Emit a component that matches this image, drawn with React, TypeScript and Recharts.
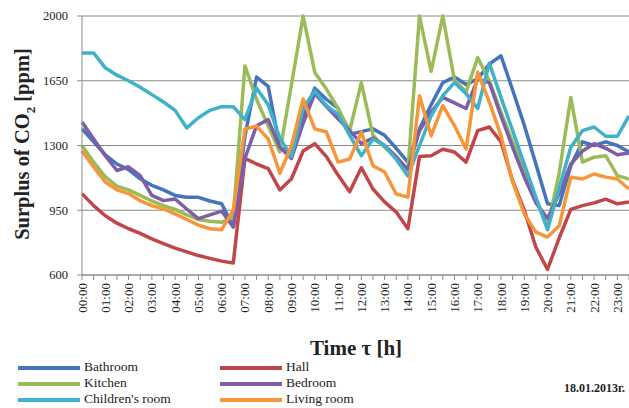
import { LineChart, Line, XAxis, YAxis, CartesianGrid } from 'recharts';

const times = [
  '00:00', '00:30', '01:00', '01:30', '02:00', '02:30', '03:00', '03:30',
  '04:00', '04:30', '05:00', '05:30', '06:00', '06:30', '07:00', '07:30',
  '08:00', '08:30', '09:00', '09:30', '10:00', '10:30', '11:00', '11:30',
  '12:00', '12:30', '13:00', '13:30', '14:00', '14:30', '15:00', '15:30',
  '16:00', '16:30', '17:00', '17:30', '18:00', '18:30', '19:00', '19:30',
  '20:00', '20:30', '21:00', '21:30', '22:00', '22:30', '23:00', '23:30',
];

const yTicks = [600, 950, 1300, 1650, 2000];

const bathroom = [1390, 1320, 1250, 1200, 1170, 1120, 1085, 1060, 1030, 1020, 1020, 1000, 985, 860, 1350, 1670, 1620, 1290, 1250, 1450, 1610, 1550, 1500, 1360, 1375, 1390, 1355, 1285, 1210, 1390, 1520, 1640, 1670, 1630, 1660, 1740, 1785, 1600, 1410, 1200, 985, 975, 1190, 1320, 1300, 1320, 1300, 1265];
const hall = [1040, 975, 920, 880, 850, 825, 795, 770, 745, 725, 705, 690, 675, 665, 1230, 1200, 1175, 1060, 1120, 1270, 1310, 1240, 1140, 1050, 1180, 1065, 995, 940, 850, 1240, 1245, 1280, 1265, 1210, 1380, 1400, 1320, 1110, 950, 750, 630, 800, 955, 975, 990, 1010, 985, 995];
const kitchen = [1300, 1210, 1130, 1080, 1060, 1030, 1000, 975, 955, 925, 900, 890, 885, 915, 1730, 1550, 1405, 1265, 1630, 2000, 1695, 1605, 1500, 1380, 1640, 1355, 1290, 1230, 1170, 2000, 1700, 2000, 1655, 1590, 1775, 1650, 1480, 1320, 1170, 1010, 860, 1150, 1560, 1210, 1237, 1245, 1137, 1119];
const bedroom = [1427, 1335, 1245, 1165, 1185, 1137, 1030, 1002, 1011, 957, 905, 925, 945, 860, 1230, 1407, 1440, 1290, 1230, 1420, 1580, 1510, 1445, 1380, 1310, 1340, 1300, 1240, 1170, 1380, 1480, 1560, 1530, 1500, 1660, 1640, 1460, 1290, 1130, 990, 905, 1040, 1200, 1270, 1310, 1285, 1250, 1260];
const children = [1800, 1800, 1720, 1680, 1650, 1615, 1575, 1535, 1490, 1395, 1450, 1490, 1510, 1510, 1440, 1610, 1520, 1340, 1240, 1500, 1595, 1515, 1470, 1355, 1245, 1335, 1300, 1225, 1135, 1300, 1460, 1570, 1640, 1580, 1500, 1745, 1560, 1380, 1200, 1020, 845, 1070, 1290, 1380, 1400, 1350, 1350, 1460];
const living = [1270, 1184, 1103, 1060, 1040, 1002, 975, 957, 930, 900, 870, 850, 845, 950, 1389, 1405, 1335, 1150, 1299, 1551, 1390, 1373, 1210, 1227, 1373, 1191, 1157, 1038, 1021, 1569, 1353, 1515, 1407, 1281, 1697, 1535, 1353, 1103, 930, 832, 805, 866, 1129, 1119, 1146, 1129, 1119, 1065];

const series = [
  { key: 'bathroom', name: 'Bathroom', color: '#4474bd', values: bathroom },
  { key: 'hall', name: 'Hall', color: '#c0464a', values: hall },
  { key: 'kitchen', name: 'Kitchen', color: '#9bbb59', values: kitchen },
  { key: 'bedroom', name: 'Bedroom', color: '#7f5ea8', values: bedroom },
  { key: 'children', name: "Children's room", color: '#3fb1c8', values: children },
  { key: 'living', name: 'Living room', color: '#f79539', values: living },
];

const data = times.map((t, i) => {
  const row: Record<string, string | number> = { time: t };
  series.forEach((s) => {
    row[s.key] = s.values[i];
  });
  return row;
});

const serif = '"Liberation Serif", "Times New Roman", serif';

// only whole hours get a label, half hours keep just the tick mark
const TimeTick = (props: any) => {
  const { x, y, payload } = props;
  if (!String(payload.value).endsWith(':00')) return <g />;
  return (
    <text
      x={x}
      y={y}
      transform={`rotate(-90 ${x} ${y})`}
      textAnchor="end"
      dy="0.35em"
      fontSize={13}
      fill="#222"
      fontFamily={serif}
    >
      {payload.value}
    </text>
  );
};

export default function App() {
  return (
    <div
      style={{
        position: 'absolute',
        left: 0,
        top: 0,
        width: 629,
        height: 408,
        overflow: 'hidden',
        background: '#fff',
        fontFamily: serif,
      }}
    >
      <LineChart
        width={629}
        height={408}
        data={data}
        margin={{ top: 16, right: 0, left: 0, bottom: 73 }}
      >
        <CartesianGrid vertical={false} stroke="#8a8a8a" />
        <XAxis
          dataKey="time"
          interval={0}
          height={60}
          tick={<TimeTick />}
          tickSize={5}
          tickMargin={3}
          stroke="#8a8a8a"
        />
        <YAxis
          width={82}
          domain={[600, 2000]}
          ticks={yTicks}
          interval={0}
          tickSize={5}
          tickMargin={9}
          stroke="#8a8a8a"
          tick={{ fontSize: 12.5, fill: '#222', fontFamily: serif }}
        />
        {series.map((s) => (
          <Line
            key={s.key}
            type="linear"
            dataKey={s.key}
            name={s.name}
            stroke={s.color}
            strokeWidth={3.5}
            strokeLinejoin="round"
            dot={false}
            activeDot={false}
            isAnimationActive={false}
          />
        ))}
      </LineChart>

      <div
        style={{
          position: 'absolute',
          left: 25,
          top: 144,
          transform: 'translate(-50%, -50%) rotate(-90deg)',
          whiteSpace: 'nowrap',
          fontWeight: 'bold',
          fontSize: 20.5,
          color: '#222',
        }}
      >
        Surplus of CO<sub style={{ fontSize: 13 }}>2</sub> [ppm]
      </div>

      <div
        style={{
          position: 'absolute',
          left: 356,
          top: 348,
          transform: 'translate(-50%, -50%)',
          whiteSpace: 'nowrap',
          fontWeight: 'bold',
          fontSize: 21,
          color: '#222',
        }}
      >
        Time τ [h]
      </div>

      {series.map((s, k) => {
        const row = Math.floor(k / 2);
        const col = k % 2;
        const lx = col === 0 ? 18 : 220;
        const cy = 368 + row * 16;
        return (
          <div key={s.key}>
            <div
              style={{
                position: 'absolute',
                left: lx,
                top: cy - 2,
                width: 62,
                height: 4,
                background: s.color,
              }}
            />
            <div
              style={{
                position: 'absolute',
                left: lx + 66,
                top: cy - 9,
                fontSize: 13.5,
                lineHeight: '16px',
                color: '#222',
                whiteSpace: 'nowrap',
              }}
            >
              {s.name}
            </div>
          </div>
        );
      })}

      <div
        style={{
          position: 'absolute',
          right: 4,
          top: 381,
          fontSize: 12,
          fontWeight: 'bold',
          color: '#222',
          whiteSpace: 'nowrap',
        }}
      >
        18.01.2013г.
      </div>
    </div>
  );
}
